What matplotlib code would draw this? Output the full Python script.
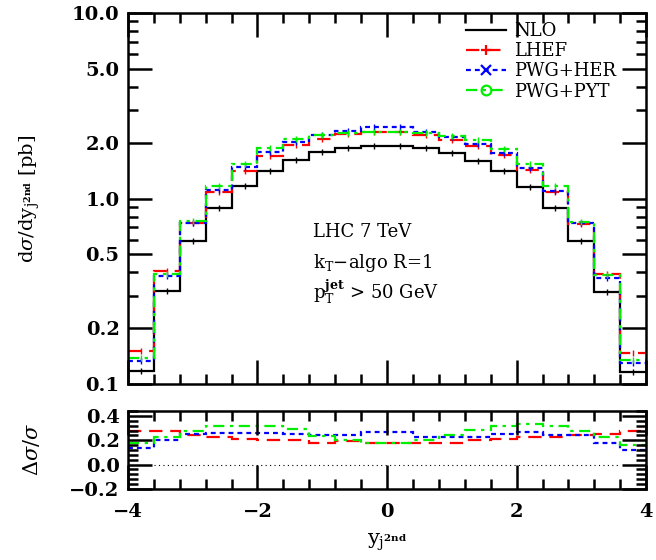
import matplotlib
matplotlib.use("Agg")
import matplotlib.pyplot as plt
from matplotlib.lines import Line2D
from matplotlib.ticker import FixedLocator, MultipleLocator, NullFormatter
import numpy as np

#%% Data
edges = np.arange(-4.0, 4.01, 0.4)

nlo = [0.118, 0.318, 0.592, 0.886, 1.168, 1.41, 1.612, 1.774, 1.864, 1.93,
       1.93, 1.864, 1.752, 1.60, 1.41, 1.158, 0.886, 0.59, 0.315, 0.116]
lhef = [0.151, 0.407, 0.734, 1.09, 1.413, 1.70, 1.94, 2.09, 2.22, 2.27,
        2.27, 2.20, 2.07, 1.92, 1.71, 1.416, 1.09, 0.73, 0.394, 0.148]
pwg_her = [0.134, 0.382, 0.74, 1.115, 1.47, 1.774, 2.015, 2.21, 2.31, 2.44,
           2.44, 2.29, 2.15, 1.96, 1.76, 1.46, 1.10, 0.735, 0.372, 0.13]
pwg_pyt = [0.139, 0.39, 0.758, 1.163, 1.54, 1.86, 2.086, 2.19, 2.24, 2.27,
           2.27, 2.24, 2.18, 2.06, 1.85, 1.54, 1.17, 0.75, 0.386, 0.135]

# relative difference to NLO (lower panel)
r_lhef = [0.28, 0.28, 0.24, 0.23, 0.21, 0.205, 0.205, 0.18, 0.19, 0.177,
          0.177, 0.18, 0.18, 0.20, 0.212, 0.223, 0.23, 0.24, 0.25, 0.272]
r_her = [0.136, 0.199, 0.25, 0.258, 0.258, 0.258, 0.25, 0.245, 0.24, 0.264,
         0.264, 0.23, 0.23, 0.223, 0.25, 0.264, 0.245, 0.245, 0.18, 0.117]
r_pyt = [0.177, 0.226, 0.28, 0.313, 0.32, 0.32, 0.294, 0.237, 0.20, 0.177,
         0.177, 0.20, 0.245, 0.286, 0.313, 0.33, 0.32, 0.272, 0.225, 0.163]

labels = ['NLO', 'LHEF', 'PWG+HER', 'PWG+PYT']
colors = ['black', 'red', 'blue', '#00ee00']
styles = ['-', (0, (6, 3.5)), (0, (2.2, 1.8)), (0, (5, 2.5, 1.5, 2.5))]
markers = ['|', '+', 'x', 'o']

#%% Style
plt.rcParams['font.family'] = ['DejaVu Serif']
plt.rcParams['mathtext.fontset'] = 'dejavuserif'

fig = plt.figure(figsize=(6.56, 5.6), dpi=100)
ax = fig.add_axes([0.195, 0.314, 0.79, 0.663])
axr = fig.add_axes([0.195, 0.127, 0.79, 0.139])

centers = 0.5 * (edges[1:] + edges[:-1])

#%% Main panel
for vals, c, ls, m in zip([nlo, lhef, pwg_her, pwg_pyt], colors, styles, markers):
    ax.stairs(vals, edges, color=c, lw=1.6, ls=ls, baseline=None)
    ax.plot(centers, vals, ls='none', marker='|', color=c, ms=4, mew=1.0)

ax.set_yscale('log')
ax.set_xlim(-4, 4)
ax.set_ylim(0.1, 10)

ax.yaxis.set_major_locator(FixedLocator([0.1, 0.2, 0.5, 1.0, 2.0, 5.0, 10.0]))
ax.yaxis.set_minor_locator(FixedLocator([0.3, 0.4, 0.6, 0.7, 0.8, 0.9, 3, 4, 6, 7, 8, 9]))
ax.set_yticklabels(['0.1', '0.2', '0.5', '1.0', '2.0', '5.0', '10.0'])
ax.yaxis.set_minor_formatter(NullFormatter())
ax.xaxis.set_major_locator(MultipleLocator(2))
ax.xaxis.set_minor_locator(MultipleLocator(0.4))
ax.set_xticklabels([])

ax.set_ylabel(r'd$\sigma$/dy$_{\mathregular{j}^{\mathbf{2nd}}}$ [pb]', fontsize=14)
ax.yaxis.set_label_coords(-0.165, 0.5)

ax.text(-1.15, 0.62, 'LHC 7 TeV', fontsize=13)
ax.text(-1.15, 0.42, r'k$_{\mathregular{T}}$$-$algo R=1', fontsize=13)
ax.text(-1.15, 0.285, r'p$_{\mathregular{T}}^{\mathbf{jet}}$ > 50 GeV', fontsize=13)

handles = [Line2D([], [], color=c, ls=ls, lw=1.6, marker=m if m != '|' else None,
                  ms=7, mew=1.6, mfc='none')
           for c, ls, m in zip(colors, styles, markers)]
ax.legend(handles, labels, loc='upper left', bbox_to_anchor=(0.645, 0.985),
          frameon=False, fontsize=13, handlelength=2.2, handletextpad=0.5,
          labelspacing=0.12, borderaxespad=0, borderpad=0.2)

#%% Ratio panel
for vals, c, ls in zip([r_lhef, r_her, r_pyt], colors[1:], styles[1:]):
    axr.stairs(vals, edges, color=c, lw=1.6, ls=ls, baseline=None)
axr.plot([-3.6, 3.6], [0, 0], color='black', lw=0.8, ls=(0, (1, 3)))

axr.set_xlim(-4, 4)
axr.set_ylim(-0.2, 0.44)
axr.yaxis.set_major_locator(FixedLocator([-0.2, 0.0, 0.2, 0.4]))
axr.set_yticklabels(['\u22120.2', '0.0', '0.2', '0.4'])
axr.yaxis.set_minor_locator(MultipleLocator(0.04))
axr.xaxis.set_major_locator(MultipleLocator(2))
axr.xaxis.set_minor_locator(MultipleLocator(0.4))
axr.set_ylabel(r'$\Delta\sigma/\sigma$', fontsize=15)
axr.yaxis.set_label_coords(-0.165, 0.5)
axr.set_xlabel(r'y$_{\mathregular{j}^{\mathbf{2nd}}}$', fontsize=15, labelpad=8)

for a in (ax, axr):
    a.tick_params(which='both', direction='in', top=True, right=True, width=1.8)
    a.tick_params(which='major', length=17, labelsize=14, pad=6)
    a.tick_params(which='minor', length=7)
    for sp in a.spines.values():
        sp.set_linewidth(1.8)
    for lab in a.get_xticklabels() + a.get_yticklabels():
        lab.set_fontweight('bold')
axr.tick_params(axis='x', which='major', pad=10)

fig.savefig('out.png', dpi=100)
